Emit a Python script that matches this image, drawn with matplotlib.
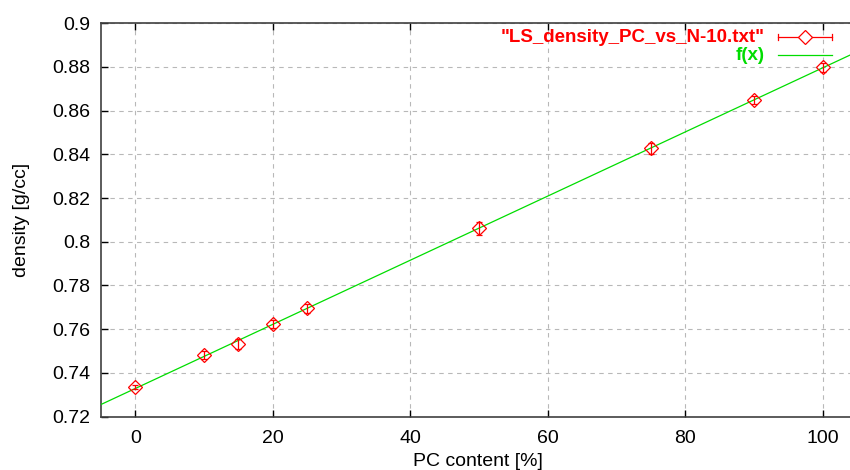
import numpy as np
import matplotlib
matplotlib.use("Agg")
import matplotlib.pyplot as plt
from matplotlib.lines import Line2D

plt.rcParams['font.family'] = ['Liberation Sans', 'DejaVu Sans']

# measured density of LS electrolyte vs PC content
pc_content = [0, 10, 15, 20, 25, 50, 75, 90, 100]
density = [0.7336, 0.7482, 0.7532, 0.7623, 0.7695, 0.8062, 0.8428, 0.8649, 0.8799]
density_err = [0.0010, 0.0020, 0.0025, 0.0020, 0.0020, 0.0030, 0.0025, 0.0020, 0.0020]

x_ticks = [0, 20, 40, 60, 80, 100]
y_ticks = [0.72, 0.74, 0.76, 0.78, 0.80, 0.82, 0.84, 0.86, 0.88, 0.90]
y_tick_labels = ["0.72", "0.74", "0.76", "0.78", "0.8", "0.82", "0.84", "0.86", "0.88", "0.9"]

data_label = '"LS_density_PC_vs_N-10.txt"'
fit_label = "f(x)"

RED = "#ff0000"
GREEN = "#00dd00"
GRID = "#b8b8b8"
FS = 14

W, H = 850, 470
fig = plt.figure(figsize=(W / 100, H / 100), dpi=100)

# axes box in pixels
left_px, top_px, bottom_px = 101, 23.3, 416.5
x_lo, x_hi = -5, 105
px_per_unit = 6.873
right_px = left_px + (x_hi - x_lo) * px_per_unit
ax = fig.add_axes([left_px / W, (H - bottom_px) / H,
                   (right_px - left_px) / W, (bottom_px - top_px) / H])

# linear fit f(x) = a + b*x
b, a = np.polyfit(pc_content, density, 1)
xs = np.linspace(x_lo, x_hi, 200)
ax.plot(xs, a + b * xs, color=GREEN, lw=0.9, zorder=3)

ax.errorbar(pc_content, density, yerr=density_err, fmt='D', ms=7,
            mfc='none', mec=RED, mew=0.9, ecolor=RED, elinewidth=0.9,
            capsize=2.5, capthick=0.9, zorder=4)

ax.set_xlim(x_lo, x_hi)
ax.set_ylim(0.72, 0.90)
ax.set_xticks(x_ticks)
ax.set_xticklabels([str(t) for t in x_ticks])
ax.set_yticks(y_ticks)
ax.set_yticklabels(y_tick_labels)

ax.grid(True, color=GRID, ls=(0, (4, 4)), lw=0.8)
ax.set_axisbelow(True)
ax.tick_params(direction='in', length=5, width=1.0, labelsize=FS,
               top=True, right=False, pad=8, colors='black')
ax.tick_params(axis='x', pad=10)
for side in ['left', 'bottom', 'top']:
    ax.spines[side].set_color('#404040')
    ax.spines[side].set_linewidth(1.2)
ax.spines['right'].set_visible(False)

fig.text(22 / W, 1 - 220 / H, "density [g/cc]", rotation=90, ha='center',
         va='center', fontsize=FS)
fig.text(478 / W, 1 - 461 / H, "PC content [%]", ha='center', va='center',
         fontsize=FS)

# key in the upper right corner
fig.text(765 / W, 1 - 37 / H, data_label, color=RED, ha='right', va='center',
         fontsize=13.5, fontweight='bold')
fig.text(765 / W, 1 - 55 / H, fit_label, color=GREEN, ha='right', va='center',
         fontsize=13.5, fontweight='bold')
y1 = 1 - 37 / H
y2 = 1 - 55 / H
x_a, x_b = 778 / W, 832 / W
fig.add_artist(Line2D([x_a, x_b], [y1, y1], color=RED, lw=0.9))
for xe in (x_a, x_b):
    fig.add_artist(Line2D([xe, xe], [y1 - 3.5 / H, y1 + 3.5 / H], color=RED, lw=0.9))
fig.add_artist(Line2D([(x_a + x_b) / 2], [y1], marker='D', ms=7, mfc='white',
                      mec=RED, mew=0.9, color=RED))
fig.add_artist(Line2D([x_a, x_b], [y2, y2], color=GREEN, lw=0.9))

fig.savefig("out.png", dpi=100)
